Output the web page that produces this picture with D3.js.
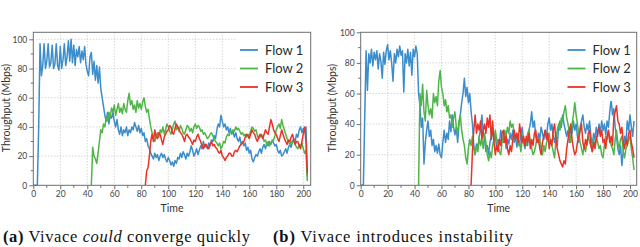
<!DOCTYPE html>
<html><head><meta charset="utf-8">
<script src="https://cdn.jsdelivr.net/npm/d3@7"></script>
<style>
html,body{margin:0;padding:0;background:#fff;overflow:hidden;}
svg{display:block;}
.cap{font-family:"Liberation Serif","Times New Roman","DejaVu Serif",serif;}
</style></head>
<body>
<svg id="chart" width="640" height="247"></svg>
<script>
// ---------------- DATA ----------------
const seriesNames = ["Flow 1", "Flow 2", "Flow 3"];
const xTicks = [0, 20, 40, 60, 80, 100, 120, 140, 160, 180, 200];
const yTicks = [0, 20, 40, 60, 80, 100];
const xLabel = "Time";
const yLabel = "Throughput (Mbps)";
const captionA = ["(a)", " Vivace ", "could", " converge quickly"];
const captionB = ["(b)", " Vivace introduces instability"];
const timeStep = 1;

// Panel (a): start times and per-second throughput
const aStart = [0, 43, 83];
const aFlow1 = [0,0,0,0,40,97,75,82,97,80,85,97,81,84,96,80,83,97,82,79,95,80,86,97,82,88,99,85,100,84,96,82,93,88,95,84,92,86,95,83,78,
75,88,91,76,85,72,82,70,81,66,60,54,48,44,50,42,48,46,50,44,40,45,38,35,40,34,38,36,40,34,38,36,40,38,43,40,37,41,36,39,34,36,30,32,27,25,22,20,18,22,19,21,17,20,22,19,21,18,16,19,17,14,16,13,17,15,19,18,22,19,23,21,18,22,20,23,27,24,20,22,25,21,24,27,25,30,26,28,25,29,27,31,30,34,32,38,42,40,48,44,40,42,38,40,36,39,35,37,33,36,32,30,33,28,30,27,29,24,26,22,24,18,16,19,21,20,23,25,22,26,28,25,29,27,30,28,31,29,27,28,24,22,24,20,21,23,25,22,26,28,26,30,32,30,35,33,38,40,36,39,37,40,6];
const aFlow2 = [0,26,20,18,15,22,30,38,36,42,40,46,44,50,47,53,50,55,48,52,56,50,53,49,56,52,50,58,63,55,58,52,55,50,58,53,56,52,57,60,54,50,52,46,40,36,32,30,34,36,33,38,36,40,35,38,42,40,37,35,38,42,44,38,40,37,41,39,36,35,38,41,40,37,39,36,40,42,39,41,40,37,38,35,36,34,32,33,35,36,34,32,30,29,27,29,25,27,30,29,33,35,34,37,36,38,37,40,38,39,37,35,36,34,35,33,35,34,37,40,39,37,38,34,32,33,35,33,30,31,28,30,27,29,30,31,34,38,40,42,39,45,41,38,35,32,30,28,30,29,31,28,26,25,28,27,29,25,22,24,3];
const aFlow3 = [0,10,12,20,30,35,30,38,33,32,36,35,31,28,33,35,37,38,41,40,36,35,39,42,40,38,36,35,33,30,34,35,33,32,30,28,31,30,33,35,32,30,27,25,28,28,26,25,28,30,27,28,26,25,23,22,24,20,19,17,19,20,22,22,20,20,23,24,23,25,27,28,29,30,33,35,34,32,35,38,36,35,32,30,33,35,34,32,35,38,36,35,40,45,42,38,36,35,32,30,34,38,35,32,30,28,31,30,33,35,31,28,30,30,27,25,30,35,40,30,8];

// Panel (b)
const bStart = [0, 43, 82];
const bFlow1 = [
  0,0,0,45,88,62,86,80,89,78,
  87,82,88,76,86,81,70,87,79,88,
  92,82,88,80,68,86,80,89,84,91,
  85,88,61,86,80,89,78,87,72,89,
  84,91,86,60,52,38,44,14,28,36,
  42,32,36,26,30,22,26,21,27,20,
  18,28,36,28,34,30,42,35,46,38,
  33,38,28,40,46,54,60,70,58,64,
  54,60,48,40,26,20,27,24,32,36,
  46,34,30,22,26,20,28,32,36,28,
  33,24,30,27,36,31,28,33,24,30,
  27,34,30,36,28,32,25,30,26,34,
  38,28,24,30,26,36,40,48,38,42,
  32,28,34,30,38,34,30,36,32,40,
  44,36,40,32,28,34,26,38,42,38,
  46,40,36,32,36,28,38,34,42,36,
  40,32,28,38,42,46,38,34,40,36,
  42,32,26,34,30,38,32,40,34,42,
  36,40,33,42,38,48,56,46,50,38,
  32,24,20,26,13,22,32,28,42,36,
  46,38,32,42];
const bFlow2 = [
  0,60,52,66,48,42,62,52,46,50,
  44,60,54,58,52,68,75,64,60,52,
  56,48,52,44,46,38,44,48,38,34,
  42,46,36,30,26,18,14,24,30,26,
  32,24,20,26,22,32,26,30,24,34,
  28,20,16,22,18,26,30,36,30,26,
  22,20,28,32,36,32,38,34,42,38,
  40,34,30,34,26,28,22,32,28,30,
  26,34,36,28,24,20,22,26,32,28,
  30,24,20,26,22,28,30,34,28,26,
  22,18,30,36,40,36,44,42,48,52,
  44,40,34,28,40,46,54,46,40,34,
  28,24,20,26,22,28,32,28,26,22,
  30,26,32,28,24,26,20,18,26,32,
  30,36,30,26,24,20,30,36,28,24,
  30,32,22,18,24,26,30,32,24,18,
  10];
const bFlow3 = [
  0,22,36,46,34,40,36,42,30,36,
  40,34,44,38,46,30,42,28,20,26,
  22,30,26,34,36,28,32,24,20,26,
  22,30,36,30,34,28,40,34,28,32,
  26,32,28,34,24,30,26,34,36,28,
  30,24,20,28,32,36,30,34,24,30,
  26,36,40,30,24,20,16,14,12,16,
  14,24,30,36,40,30,24,20,22,28,
  32,36,40,28,24,30,26,34,36,26,
  22,28,24,30,34,38,32,36,28,30,
  24,32,36,28,32,26,44,48,52,42,
  40,34,38,28,24,30,26,34,36,28,
  24,18];

// ---------------- STYLE / LAYOUT ----------------
const colors = ["#3b8dcb", "#4fb548", "#ec3127"];
const svg = d3.select("#chart");
const FONT = "Lato, 'Open Sans', sans-serif";

function drawPanel(cfg) {
  const g = svg.append("g");
  const x = d3.scaleLinear().domain(cfg.xDomain).range([cfg.left, cfg.right]);
  const y = d3.scaleLinear().domain(cfg.yDomain).range([cfg.bottom, cfg.top]);

  // grid
  g.append("g").selectAll("line").data(xTicks.filter(t => t > 0)).join("line")
    .attr("x1", d => x(d)).attr("x2", d => x(d))
    .attr("y1", cfg.top).attr("y2", cfg.bottom)
    .attr("stroke", "#b5b5b5").attr("stroke-width", 0.8).attr("stroke-dasharray", "1,2");
  g.append("g").selectAll("line").data(yTicks.filter(t => t > 0 && y(t) > cfg.top + 0.5)).join("line")
    .attr("x1", cfg.left).attr("x2", cfg.right)
    .attr("y1", d => y(d)).attr("y2", d => y(d))
    .attr("stroke", "#b5b5b5").attr("stroke-width", 0.8).attr("stroke-dasharray", "1,2");

  // lines
  const line = d3.line().x(d => x(d.t)).y(d => y(d.v));
  cfg.series.forEach((vals, i) => {
    const pts = vals.map((v, k) => ({ t: cfg.starts[i] + k * timeStep, v }));
    g.append("path").datum(pts)
      .attr("d", line).attr("fill", "none")
      .attr("stroke", colors[i]).attr("stroke-width", 1.5)
      .attr("stroke-linejoin", "round");
  });

  // legend background
  g.append("rect").attr("x", cfg.legX - 3).attr("y", cfg.top + 1)
    .attr("width", cfg.right - cfg.legX + 2).attr("height", cfg.legBottom - cfg.top)
    .attr("fill", "#fff");
  seriesNames.forEach((name, i) => {
    const yy = 50 + i * 18.5;
    g.append("line").attr("x1", cfg.legX).attr("x2", cfg.legX + 18)
      .attr("y1", yy).attr("y2", yy).attr("stroke", colors[i]).attr("stroke-width", 1.8);
    g.append("text").attr("x", cfg.legX + 25).attr("y", yy + 4.5)
      .attr("font-family", FONT).attr("font-size", 13).attr("fill", "#2a2a2a").text(name);
  });

  // frame
  g.append("rect").attr("x", cfg.left).attr("y", cfg.top)
    .attr("width", cfg.right - cfg.left).attr("height", cfg.bottom - cfg.top)
    .attr("fill", "none").attr("stroke", "#6e6e6e").attr("stroke-width", 1);

  // axes
  const xAxis = d3.axisBottom(x).tickValues(xTicks).tickSize(4).tickPadding(2);
  const gx = g.append("g").attr("transform", `translate(0,${cfg.bottom})`).call(xAxis);
  const yAxis = d3.axisLeft(y).tickValues(yTicks).tickSize(4).tickPadding(2);
  const gy = g.append("g").attr("transform", `translate(${cfg.left},0)`).call(yAxis);
  [gx, gy].forEach(a => {
    a.select(".domain").remove();
    a.selectAll("line").attr("stroke", "#6e6e6e");
    a.selectAll("text").attr("font-family", FONT).attr("font-size", 8.5).attr("fill", "#444");
  });
  // minor ticks
  const xMinor = xTicks.slice(0, -1).map((t, i) => (t + xTicks[i + 1]) / 2);
  const yMinor = yTicks.slice(0, -1).map((t, i) => (t + yTicks[i + 1]) / 2);
  g.append("g").selectAll("line").data(xMinor).join("line")
    .attr("x1", d => x(d)).attr("x2", d => x(d)).attr("y1", cfg.bottom).attr("y2", cfg.bottom + 2.5)
    .attr("stroke", "#6e6e6e");
  g.append("g").selectAll("line").data(yMinor).join("line")
    .attr("y1", d => y(d)).attr("y2", d => y(d)).attr("x1", cfg.left).attr("x2", cfg.left - 2.5)
    .attr("stroke", "#6e6e6e");

  // axis labels
  g.append("text").attr("x", (cfg.left + cfg.right) / 2).attr("y", 212)
    .attr("text-anchor", "middle").attr("font-family", FONT).attr("font-size", 10.5)
    .attr("fill", "#333").text(xLabel);
  g.append("text").attr("transform", `translate(${cfg.yLabX},108) rotate(-90)`)
    .attr("text-anchor", "middle").attr("font-family", FONT).attr("font-size", 10.5)
    .attr("fill", "#333").text(yLabel);
}

drawPanel({
  left: 33.3, right: 310.7, top: 32.3, bottom: 185.3,
  xDomain: [0, 205.5], yDomain: [0, 104.8],
  starts: aStart, series: [aFlow1, aFlow2, aFlow3],
  legX: 240, legBottom: 100, yLabX: 10
});
drawPanel({
  left: 360.7, right: 636.7, top: 32.3, bottom: 185.3,
  xDomain: [0, 205], yDomain: [0, 100],
  starts: bStart, series: [bFlow1, bFlow2, bFlow3],
  legX: 567.5, legBottom: 100, yLabX: 336
});

// captions
function caption(parts, x0, len) {
  const t = svg.append("text").attr("class", "cap").attr("x", x0).attr("y", 242)
    .attr("font-size", 16.5)
    .attr("fill", "#111").attr("textLength", len).attr("lengthAdjust", "spacing");
  parts.forEach((p, i) => {
    const ts = t.append("tspan").text(p);
    if (i === 0) ts.attr("font-weight", "bold");
    if (p === "could") ts.attr("font-style", "italic");
  });
}
caption(captionA, 3, 247);
caption(captionB, 273, 240);
</script>
</body></html>
